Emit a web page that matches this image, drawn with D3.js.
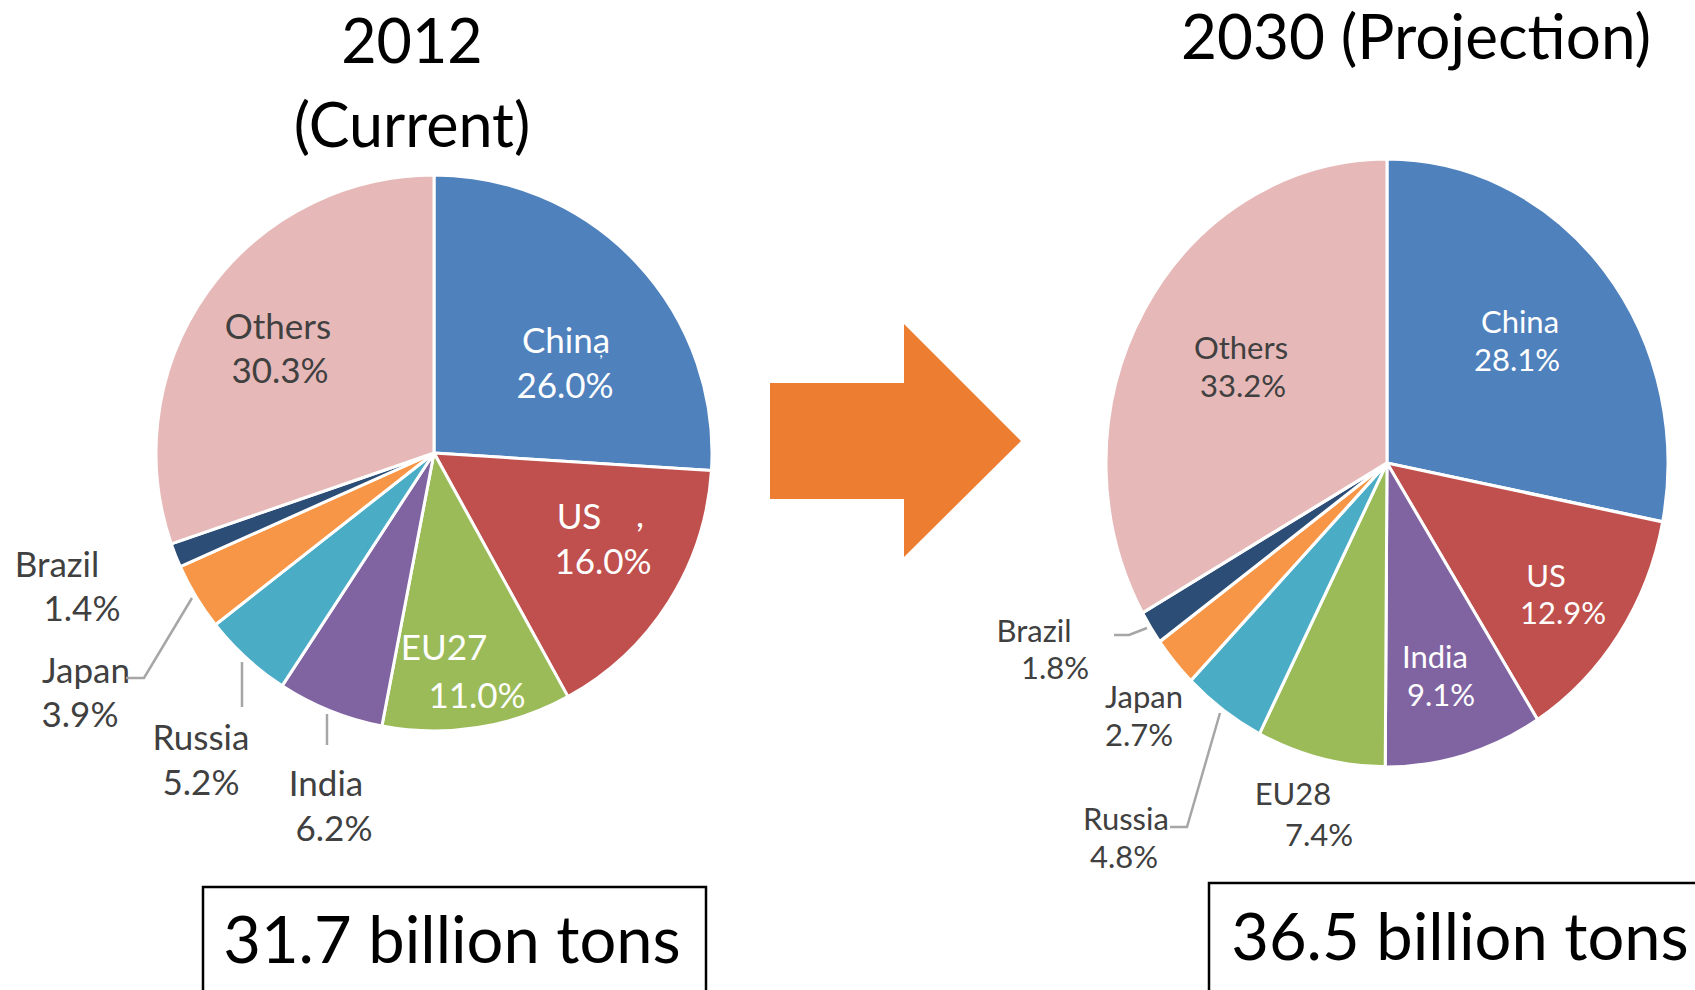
<!DOCTYPE html>
<html>
<head>
<meta charset="utf-8">
<script src="https://cdn.jsdelivr.net/npm/d3@7"></script>
<style>
  body { margin: 0; background: #fff; }
  svg { display: block; font-family: Lato, "Open Sans", sans-serif; }
</style>
</head>
<body>
<svg id="chart" width="1695" height="990"></svg>
<script>
// data
const countries2012 = ['China', 'US', 'EU27', 'India', 'Russia', 'Japan', 'Brazil', 'Others'];
const shares2012 = [26.0, 16.0, 11.0, 6.2, 5.2, 3.9, 1.4, 30.3];
const countries2030 = ['China', 'US', 'India', 'EU28', 'Russia', 'Japan', 'Brazil', 'Others'];
const shares2030 = [28.1, 12.9, 9.1, 7.4, 4.8, 2.7, 1.8, 33.2];
const totals = ['31.7 billion tons', '36.5 billion tons'];

const colors = {
  China: '#4f81bd', US: '#c0504d', EU27: '#9bbb59', EU28: '#9bbb59', India: '#8064a2',
  Russia: '#4bacc6', Japan: '#f79646', Brazil: '#2c4d75', Others: '#e6b9b8'
};
const whiteText = { left: ['China', 'US', 'EU27'], right: ['China', 'US', 'India'] };

// label placement [nameX, nameY, valueX, valueY] (baselines)
const labels2012 = {
  China: [566, 353, 565, 398], US: [579, 529, 603, 574], EU27: [444, 660, 477, 708],
  India: [326, 796, 334, 841], Russia: [201, 750, 201, 795], Japan: [86, 683, 80, 727],
  Brazil: [57, 577, 82, 621], Others: [278, 339, 280, 383]
};
const labels2030 = {
  China: [1520, 333, 1517, 371], US: [1546, 587, 1563, 624], India: [1435, 668, 1441, 706],
  EU28: [1293, 805, 1319, 846], Russia: [1126, 830, 1124, 868], Japan: [1144, 708, 1139, 746],
  Brazil: [1034, 642, 1055, 679], Others: [1241, 359, 1243, 397]
};
const leaders = [
  [[192, 598], [144, 678], [126, 678]],
  [[242, 662], [242, 707]],
  [[327, 714], [327, 745]],
  [[1147, 628], [1129, 635], [1114, 635]],
  [[1220, 713], [1187, 827], [1170, 827]]
];

const svg = d3.select('#chart');

function drawPie(names, values, opt) {
  const data = names.map((n, i) => ({ name: n, value: values[i] }));
  const pie = d3.pie().sort(null).value(d => d.value);
  const arc = d3.arc().innerRadius(0).outerRadius(opt.rx);
  const g = svg.append('g')
    .attr('transform', `translate(${opt.cx},${opt.cy}) scale(1,${opt.ry / opt.rx})`);
  g.selectAll('path').data(pie(data)).enter().append('path')
    .attr('d', arc)
    .attr('fill', d => colors[d.data.name])
    .attr('stroke', '#fff')
    .attr('stroke-width', 3)
    .attr('stroke-linejoin', 'round');

  const lab = svg.append('g').style('font-size', opt.fs + 'px');
  data.forEach(d => {
    const p = opt.labels[d.name];
    const fill = opt.white.includes(d.name) ? '#fff' : '#404040';
    lab.append('text').attr('x', p[0]).attr('y', p[1]).attr('text-anchor', 'middle')
      .attr('fill', fill).text(d.name);
    lab.append('text').attr('x', p[2]).attr('y', p[3]).attr('text-anchor', 'middle')
      .attr('fill', fill).text(d3.format('.1f')(d.value) + '%');
  });
}

drawPie(countries2012, shares2012, { cx: 434, cy: 453, rx: 278, ry: 278, fs: 35, labels: labels2012, white: whiteText.left });
drawPie(countries2030, shares2030, { cx: 1387, cy: 463, rx: 281, ry: 304, fs: 31, labels: labels2030, white: whiteText.right });

// stray commas from the original slide
svg.append('text').attr('x', 640).attr('y', 527).attr('fill', '#fff').style('font-size', '35px').attr('text-anchor', 'middle').text(',');
svg.append('text').attr('x', 601).attr('y', 357).attr('fill', '#fff').style('font-size', '16px').attr('text-anchor', 'middle').text(',');

// leader lines
const line = d3.line();
svg.append('g').selectAll('path').data(leaders).enter().append('path')
  .attr('d', line).attr('fill', 'none').attr('stroke', '#a6a6a6').attr('stroke-width', 2.5);

// titles
const titles = svg.append('g').style('font-size', '61px').attr('fill', '#000').attr('text-anchor', 'middle');
titles.append('text').attr('x', 412).attr('y', 63).text('2012');
titles.append('text').attr('x', 412).attr('y', 147).text('(Current)');
titles.append('text').attr('x', 1416).attr('y', 59).style('font-size', '62px').text('2030 (Projection)');

// arrow
svg.append('path')
  .attr('d', 'M770,383 L904,383 L904,324 L1021,441 L904,557 L904,499 L770,499 Z')
  .attr('fill', '#ed7d31');

// total boxes
const boxes = [
  { x: 203, y: 887, w: 503, h: 110, tx: 452, ty: 963 },
  { x: 1209, y: 883, w: 490, h: 110, tx: 1460, ty: 960 }
];
boxes.forEach((b, i) => {
  svg.append('rect').attr('x', b.x).attr('y', b.y).attr('width', b.w).attr('height', b.h)
    .attr('fill', 'none').attr('stroke', '#000').attr('stroke-width', 2.5);
  svg.append('text').attr('x', b.tx).attr('y', b.ty).attr('text-anchor', 'middle')
    .style('font-size', '65px').attr('fill', '#000').text(totals[i]);
});
</script>
</body>
</html>
